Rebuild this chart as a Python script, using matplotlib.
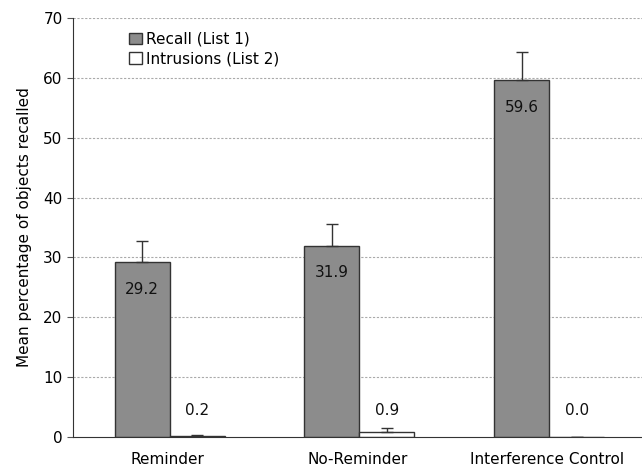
import matplotlib
matplotlib.use("Agg")
import matplotlib.pyplot as plt
import numpy as np

categories = ["Reminder", "No-Reminder", "Interference Control"]
recall = [29.2, 31.9, 59.6]
recall_err = [3.6, 3.7, 4.7]
intrusions = [0.2, 0.9, 0.0]
intrusions_err = [0.1, 0.6, 0.0]
recall_labels = ["29.2", "31.9", "59.6"]
intrusion_labels = ["0.2", "0.9", "0.0"]

fig = plt.figure(figsize=(6.42, 4.71), dpi=100)
ax = fig.add_axes([73/642, 34/471, 569/642, 419/471])

x = np.arange(len(categories))
w = 0.29
ax.set_xlim(-0.5, 2.5)
ax.set_ylim(0, 70)

for y in range(10, 71, 10):
    ax.axhline(y, color="#aaaaaa", lw=0.8, ls=(0, (2, 1.5)), zorder=0)

b1 = ax.bar(x - w/2 + 0.01, recall, w, color="#8c8c8c", edgecolor="#333333", lw=1.0,
            yerr=[np.zeros(3), recall_err], error_kw=dict(ecolor="#333333", elinewidth=1.0, capsize=4, capthick=1.0),
            label="Recall (List 1)", zorder=2)
b2 = ax.bar(x + w/2 + 0.01, intrusions, w, color="white", edgecolor="#333333", lw=1.0,
            yerr=[np.zeros(3), intrusions_err], error_kw=dict(ecolor="#333333", elinewidth=1.0, capsize=4, capthick=1.0),
            label="Intrusions (List 2)", zorder=2)

for xi, v, lab in zip(x, recall, recall_labels):
    ax.text(xi - w/2 + 0.01, v - 4.5, lab, ha="center", va="center", fontsize=11, color="#111111", zorder=3)
for xi, lab in zip(x, intrusion_labels):
    ax.text(xi + w/2 + 0.01, 4.5, lab, ha="center", va="center", fontsize=11, color="#111111", zorder=3)

ax.set_xticks(x)
ax.set_xticklabels(categories, fontsize=11)
ax.set_yticks(range(0, 71, 10))
ax.tick_params(axis="y", labelsize=11, length=4, color="#555555")
ax.tick_params(axis="x", length=0, pad=11)
ax.set_ylabel("Mean percentage of objects recalled", fontsize=11, labelpad=8)

for s in ["top", "right"]:
    ax.spines[s].set_visible(False)
ax.spines["left"].set_color("#333333")
ax.spines["bottom"].set_color("#333333")

leg = ax.legend(loc="upper left", bbox_to_anchor=(0.075, 1.0), frameon=False, fontsize=11,
                handlelength=0.8, handleheight=0.8, handletextpad=0.3, labelspacing=0.3)

fig.savefig("out.png", dpi=100)
